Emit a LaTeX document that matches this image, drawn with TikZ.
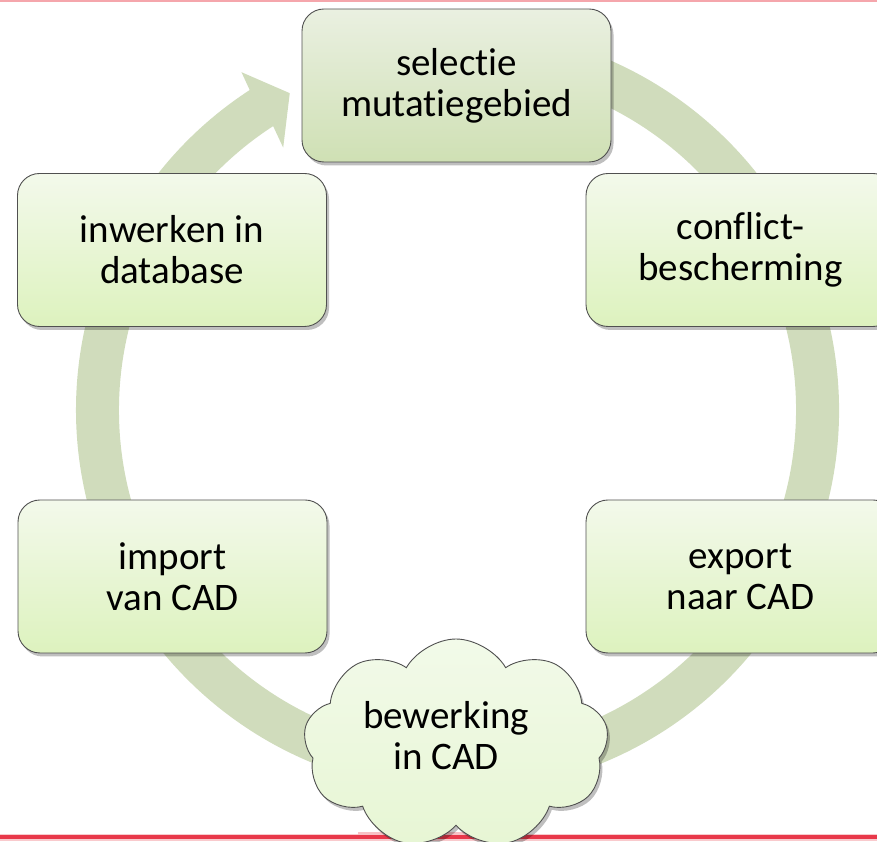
\documentclass[tikz,border=0pt]{standalone}
\usepackage{fontspec}
\setmainfont{Carlito}[Ligatures=NoCommon]
\usetikzlibrary{shapes.symbols,shadows,calc}
\definecolor{ringc}{RGB}{208,220,188}
\definecolor{boxline}{RGB}{80,80,80}
\definecolor{boxtop}{RGB}{243,249,235}
\definecolor{boxbot}{RGB}{221,242,190}
\definecolor{seltop}{RGB}{234,240,225}
\definecolor{selbot}{RGB}{207,224,180}
\definecolor{cloudtop}{RGB}{242,250,233}
\definecolor{cloudbot}{RGB}{231,246,212}
\definecolor{redline}{RGB}{232,56,74}
\definecolor{pinkline}{RGB}{245,166,172}
\begin{document}
\begin{tikzpicture}[x=1pt,y=1pt,
  shadowed/.style={drop shadow={shadow xshift=2.5pt, shadow yshift=-3.5pt, opacity=0.25, fill=black}},
  box/.style={rectangle, rounded corners=22pt, minimum width=309pt, minimum height=153pt,
    draw=boxline, line width=0.9pt, top color=boxtop, bottom color=boxbot,
    align=center, inner sep=0pt, shadowed,
    font=\fontsize{39}{41}\selectfont},
  selbox/.style={box, top color=seltop, bottom color=selbot},
  cloudbox/.style={cloud, cloud puffs=9, cloud puff arc=120, aspect=1.5,
    minimum width=305pt, minimum height=210pt, inner sep=0pt,
    draw=boxline, line width=0.9pt, top color=cloudtop, bottom color=cloudbot, shadowed},
  label/.style={align=center, inner sep=0pt, font=\fontsize{39}{41}\selectfont}
]
\useasboundingbox (0,0) rectangle (877,842);
\clip (0,0) rectangle (877,842);
% frame lines
\fill[pinkline] (0,840) rectangle (877,842);
\fill[pinkline!60] (0,1) rectangle (877,8);
\fill[redline] (0,2.5) rectangle (877,6.5);
\fill[pinkline!70] (358,6.5) rectangle (506,10);
% ring arrow
\coordinate (C) at (457.5,432);
\fill[ringc] ($(C)+(100:381.5)$) arc[start angle=100, end angle=-237, radius=381.5]
  -- ($(C)+(-237.4:401)$) -- ($(C)+(-242.1:358.5)$) -- ($(C)+(-236.4:315)$)
  -- ($(C)+(-237:338.5)$) arc[start angle=-237, end angle=100, radius=338.5] -- cycle;
% nodes
\node[selbox] (sel) at (456.5,756.5) {selectie\\mutatiegebied};
\node[box] (conf) at (740.5,592) {conflict-\\bescherming};
\node[box] (exp) at (740.5,265.5) {export\\naar CAD};
\node[box] (imp) at (172.5,265.5) {import\\van CAD};
\node[box] (inw) at (172,592) {inwerken in\\database};
\node[cloudbox] (edit) at (456,98) {};
\node[label] (edittext) at (446,106) {bewerking\\in CAD};
\end{tikzpicture}
\end{document}
